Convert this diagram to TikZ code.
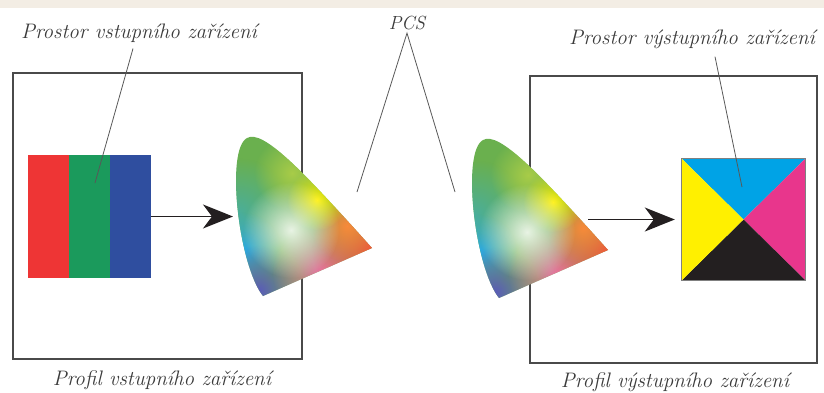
\documentclass[tikz,border=0pt]{standalone}
\usepackage{fontspec}
\usetikzlibrary{arrows.meta,fadings}

\definecolor{cream}{HTML}{F3EDE4}
\definecolor{frame}{HTML}{4A4A4A}
\definecolor{ink}{HTML}{3A3A3A}
\definecolor{rgbR}{HTML}{EE3535}
\definecolor{rgbG}{HTML}{1B9A5C}
\definecolor{rgbB}{HTML}{2F4E9F}
\definecolor{cmyC}{HTML}{00A3E6}
\definecolor{cmyM}{HTML}{E8368C}
\definecolor{cmyY}{HTML}{FFF000}
\definecolor{cmyK}{HTML}{231F20}
\definecolor{gTop}{HTML}{6AB04E}
\definecolor{gTeal}{HTML}{4AAE9A}
\definecolor{gCyan}{HTML}{2BAAE6}
\definecolor{gViolet}{HTML}{5A5CB8}
\definecolor{gPink}{HTML}{EE74A8}
\definecolor{gRed}{HTML}{F3523C}
\definecolor{gOrange}{HTML}{F88A3A}
\definecolor{gYellow}{HTML}{FFF000}
\definecolor{gLime}{HTML}{A8CC48}

\tikzfading[name=blob, inner color=transparent!0, outer color=transparent!100]

\tikzset{
  lbl/.style={font=\fontsize{21}{24}\selectfont\itshape, text=ink, inner sep=0pt},
  lead/.style={draw=ink!85, line width=0.8pt},
  profil/.style={draw=frame, line width=1.4pt},
  bar/.style={minimum width=41.5pt, minimum height=123pt, inner sep=0pt, outer sep=0pt},
  conv/.style={draw=cmyK, line width=1.6pt, -{Stealth[length=30pt,width=24pt,inset=9pt]}},
}

% gamut outline, top vertex at (0,0)
\newcommand{\gamutpath}{(16,158) .. controls (-8,128) and (-22,12) .. (0,0) .. controls (16,-9) and (55,32) .. (125,110) -- cycle}
\newcommand{\gamutblob}[3]{\fill[#1, path fading=blob] (#2) circle (#3);}
\newcommand{\gamutpatch}{%
  \begin{scope}
    \clip \gamutpath;
    \fill[gTop] (-30,-10) rectangle (130,160);
    \gamutblob{gTeal}{-8,75}{55}
    \gamutblob{gCyan}{-4,112}{38}
    \gamutblob{gViolet}{12,152}{45}
    \gamutblob{gPink}{75,135}{50}
    \gamutblob{gRed}{125,110}{60}
    \gamutblob{gOrange}{100,88}{36}
    \gamutblob{gLime}{45,35}{38}
    \gamutblob{gYellow}{70,62}{30}
    \gamutblob{white!100, fill opacity=0.85}{44,92}{48}
  \end{scope}}

\begin{document}
\begin{tikzpicture}[x=1pt, y=-1pt]
    \useasboundingbox (0,0) rectangle (824,392);
    \fill[cream] (0,0) rectangle (824,8);

    % profily zarizeni
    \draw[profil] (13,73) rectangle (302,359);
    \draw[profil] (530,76) rectangle (817,363);

    % vstupni prostor RGB
    \node[bar, fill=rgbR] (barR) at (48.5,216.5) {};
    \node[bar, fill=rgbG] (barG) at (89.5,216.5) {};
    \node[bar, fill=rgbB] (barB) at (130.5,216.5) {};

    % vystupni prostor CMYK
    \node[minimum width=123pt, minimum height=121pt, inner sep=0pt] (cmyk) at (743.5,219.5) {};
    \fill[cmyC] (cmyk.north west) -- (cmyk.north east) -- (cmyk.center) -- cycle;
    \fill[cmyM] (cmyk.north east) -- (cmyk.south east) -- (cmyk.center) -- cycle;
    \fill[cmyK] (cmyk.south east) -- (cmyk.south west) -- (cmyk.center) -- cycle;
    \fill[cmyY] (cmyk.south west) -- (cmyk.north west) -- (cmyk.center) -- cycle;
    \draw[frame!70, line width=0.8pt] (cmyk.north west) rectangle (cmyk.south east);

    % gamuty PCS
    \begin{scope}[shift={(247,138)}]
        \gamutpatch
    \end{scope}
    \begin{scope}[shift={(483,140)}]
        \gamutpatch
    \end{scope}

    % popisky
    \node[lbl] (inSpace) at (139,33) {Prostor vstupního zařízení};
    \node[lbl] (outSpace) at (692,39) {Prostor výstupního zařízení};
    \node[lbl] (inProf) at (162,380) {Profil vstupního zařízení};
    \node[lbl] (outProf) at (675,382) {Profil výstupního zařízení};
    \node[lbl, font=\fontsize{19}{22}\selectfont\itshape] (pcs) at (407,23) {PCS};

    % odkazove cary
    \coordinate (inTip) at (95,183);
    \coordinate (outTip) at (742,187);
    \coordinate (pcsL) at (357,192);
    \coordinate (pcsR) at (455,192);
    \draw[lead] ([xshift=-6pt,yshift=-6pt]inSpace.south) -- (inTip);
    \draw[lead] ([xshift=23pt,yshift=-8pt]outSpace.south) -- (outTip);
    \draw[lead] (pcsL) -- ([yshift=-3pt]pcs.south) -- (pcsR);

    % prevody
    \coordinate (inGamut) at (233,216.5);
    \coordinate (outGamut) at (588,219.5);
    \draw[conv] (barB.east) -- (inGamut);
    \draw[conv, shorten >=7pt] (outGamut) -- (cmyk.west);
\end{tikzpicture}
\end{document}
